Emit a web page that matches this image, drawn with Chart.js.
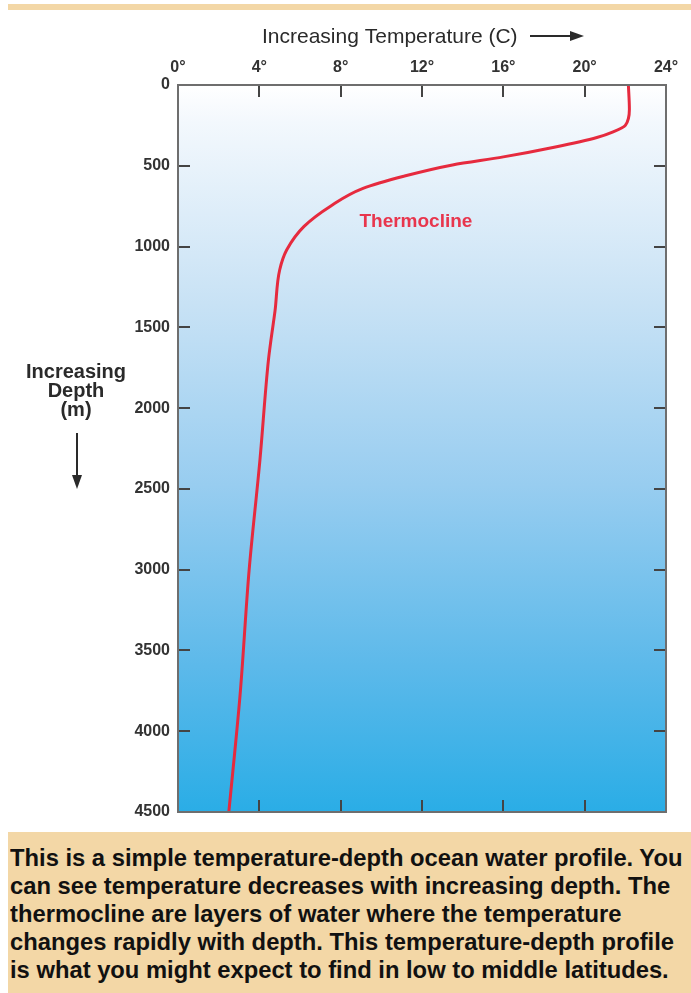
<!DOCTYPE html>
<html>
<head>
<meta charset="utf-8">
<script src="https://cdn.jsdelivr.net/npm/chart.js@4.4.1/dist/chart.umd.min.js"></script>
<style>
  html, body { margin: 0; padding: 0; background: #fff; }
  body { width: 691px; height: 993px; position: relative; overflow: hidden; }
  #stripe { position: absolute; left: 8px; top: 4px; width: 683px; height: 6px; background: #f3d7a6; }
  #wrap { position: absolute; left: 0; top: 0; width: 691px; height: 832px; }
  #caption { position: absolute; left: 8px; top: 832px; width: 683px; height: 161px;
             background: #f3d7a6; padding: 12px 0 0 2px; box-sizing: border-box; }
  #caption div { font: bold 24px "Liberation Sans", Arial, sans-serif; line-height: 28px; color: #111;
                 white-space: nowrap; transform: scaleX(0.99); transform-origin: left top; }
</style>
</head>
<body>
<div id="stripe"></div>
<div id="wrap"><canvas id="chart"></canvas></div>
<div id="caption"><div>This is a simple temperature-depth ocean water profile. You<br>can see temperature decreases with increasing depth. The<br>thermocline are layers of water where the temperature<br>changes rapidly with depth. This temperature-depth profile<br>is what you might expect to find in low to middle latitudes.</div></div>
<script>
// --- データ ---
const tempTicks = [0, 4, 8, 12, 16, 20, 24];
const depthTicks = [0, 500, 1000, 1500, 2000, 2500, 3000, 3500, 4000, 4500];

const depthM = [0, 150, 250, 290, 325, 385, 445, 495, 565, 640, 750, 875, 1020, 1145, 1400, 1580, 1700, 2320, 3000, 3780, 4500];
const tempC  = [22.15, 22.2, 22.0, 21.4, 20.6, 18.5, 16.0, 13.5, 11.1, 9.1, 7.5, 6.2, 5.35, 5.0, 4.77, 4.57, 4.45, 4.03, 3.5, 3.05, 2.5];

const xTitle = 'Increasing Temperature (C)';
const yTitle = ['Increasing', 'Depth', '(m)'];
const thermoLabel = 'Thermocline';

const profile = depthM.map((d, i) => ({ x: tempC[i], y: d }));

// 背景のグラデーション・枠・内向き目盛り・ラベル
const decor = {
    id: 'decor',
    beforeDraw(chart) {
        const { ctx, chartArea: a } = chart;
        ctx.save();
        const g = ctx.createLinearGradient(0, a.top, 0, a.bottom);
        g.addColorStop(0, '#ffffff');
        g.addColorStop(0.05, '#f3f8fd');
        g.addColorStop(0.3, '#c8e2f5');
        g.addColorStop(0.55, '#98cdf0');
        g.addColorStop(0.8, '#5cb9ea');
        g.addColorStop(1, '#2aade6');
        ctx.fillStyle = g;
        ctx.fillRect(a.left, a.top, a.right - a.left, a.bottom - a.top);
        ctx.restore();
    },
    afterDraw(chart) {
        const { ctx, chartArea: a, scales } = chart;
        const xs = scales.x, ys = scales.y;
        ctx.save();

        // 内向きの目盛り
        ctx.strokeStyle = '#444';
        ctx.lineWidth = 2;
        ctx.beginPath();
        tempTicks.slice(1, -1).forEach(t => {
            const px = Math.round(xs.getPixelForValue(t));
            ctx.moveTo(px, a.top); ctx.lineTo(px, a.top + 12);
            ctx.moveTo(px, a.bottom); ctx.lineTo(px, a.bottom - 12);
        });
        depthTicks.slice(1, -1).forEach(d => {
            const py = Math.round(ys.getPixelForValue(d));
            ctx.moveTo(a.left, py); ctx.lineTo(a.left + 12, py);
            ctx.moveTo(a.right, py); ctx.lineTo(a.right - 12, py);
        });
        ctx.stroke();

        // 枠
        ctx.strokeStyle = '#6e6e6e';
        ctx.lineWidth = 2;
        ctx.strokeRect(a.left, a.top, a.right - a.left, a.bottom - a.top);

        // 上のタイトルと矢印
        ctx.fillStyle = '#2a2a2a';
        ctx.strokeStyle = '#2a2a2a';
        ctx.font = '21px "Liberation Sans", Arial, sans-serif';
        ctx.textAlign = 'left';
        ctx.textBaseline = 'alphabetic';
        ctx.fillText(xTitle, 262, 43);
        ctx.lineWidth = 2;
        ctx.beginPath(); ctx.moveTo(530, 36); ctx.lineTo(572, 36); ctx.stroke();
        ctx.beginPath(); ctx.moveTo(584, 36); ctx.lineTo(570, 31); ctx.lineTo(570, 41); ctx.closePath(); ctx.fill();

        // 左のタイトルと矢印
        ctx.font = 'bold 20px "Liberation Sans", Arial, sans-serif';
        ctx.textAlign = 'center';
        [378, 397, 416].forEach((y, i) => ctx.fillText(yTitle[i], 76, y));
        ctx.beginPath(); ctx.moveTo(77, 433); ctx.lineTo(77, 476); ctx.stroke();
        ctx.beginPath(); ctx.moveTo(77, 489); ctx.lineTo(72, 475); ctx.lineTo(82, 475); ctx.closePath(); ctx.fill();

        // Thermocline
        ctx.fillStyle = '#e8364d';
        ctx.font = 'bold 19px "Liberation Sans", Arial, sans-serif';
        ctx.textBaseline = 'middle';
        ctx.fillText(thermoLabel, xs.getPixelForValue(11.7), ys.getPixelForValue(848));
        ctx.restore();
    }
};

const tickFont = { family: '"Liberation Sans", Arial, sans-serif', size: 16, weight: 'bold' };

new Chart(document.getElementById('chart'), {
    type: 'line',
    data: {
        datasets: [{
            data: profile,
            borderColor: '#e62a3e',
            borderWidth: 3,
            pointRadius: 0,
            cubicInterpolationMode: 'monotone',
            fill: false
        }]
    },
    options: {
        indexAxis: 'y',
        responsive: true,
        maintainAspectRatio: false,
        animation: false,
        layout: { padding: { left: 0, top: 0, right: 25, bottom: 20 } },
        plugins: { legend: { display: false }, tooltip: { enabled: false } },
        scales: {
            x: {
                type: 'linear', position: 'top', min: 0, max: 24,
                afterBuildTicks: s => { s.ticks = tempTicks.map(v => ({ value: v })); },
                afterFit: s => { s.height = 85; },
                grid: { display: false, drawTicks: false },
                border: { display: false },
                ticks: { color: '#333', font: tickFont, padding: 8, callback: v => v + '°' }
            },
            y: {
                type: 'linear', position: 'left', min: 0, max: 4500, reverse: true,
                afterBuildTicks: s => { s.ticks = depthTicks.map(v => ({ value: v })); },
                afterFit: s => { s.width = 178; },
                grid: { display: false, drawTicks: false },
                border: { display: false },
                ticks: { color: '#333', font: tickFont, padding: 8, callback: v => String(v) }
            }
        }
    },
    plugins: [decor]
});
</script>
</body>
</html>
